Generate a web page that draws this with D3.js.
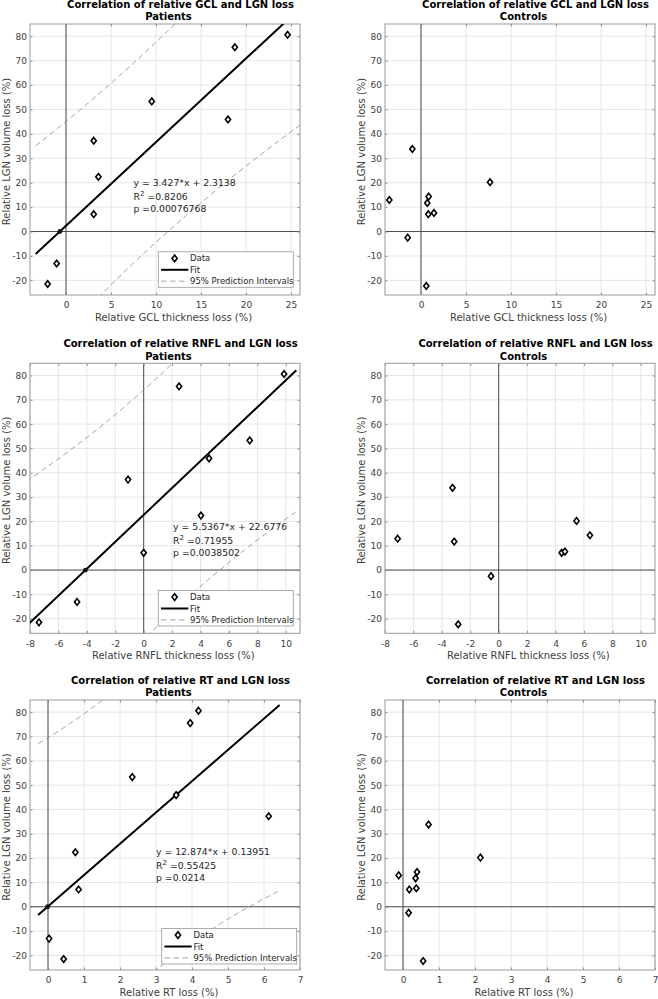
<!DOCTYPE html>
<html><head><meta charset="utf-8">
<script src="https://cdn.jsdelivr.net/npm/d3@7"></script>
<style>body{margin:0;background:#fff} svg{display:block} text{font-family:"DejaVu Sans",Verdana,sans-serif}</style>
</head><body><svg id="c" width="658" height="999"></svg>
<script>
// ---- data ----
const patientLGN  = [-21.5, -13.1, 7.1, 22.4, 37.2, 45.9, 53.3, 75.5, 80.6];
const patientGCL  = [-2.04, -1.04, 3.08, 3.6, 3.08, 18.0, 9.53, 18.76, 24.62];
const patientRNFL = [-7.37, -4.69, 0.0, 4.03, -1.10, 4.6, 7.46, 2.49, 9.88];
const patientRT   = [0.435, 0.03, 0.85, 0.76, 6.13, 3.56, 2.34, 3.95, 4.18];
const controlLGN  = [-22.3, -2.5, 7.1, 7.6, 11.7, 12.9, 14.3, 20.2, 33.8];
const controlGCL  = [0.59, -1.48, 0.81, 1.44, 0.70, -3.52, 0.85, 7.67, -0.96];
const controlRNFL = [-2.85, -0.54, 4.43, 4.66, -3.13, -7.11, 6.42, 5.48, -3.25];
const controlRT   = [0.56, 0.156, 0.175, 0.37, 0.35, -0.12, 0.39, 2.15, 0.71];

const measures = ["GCL", "RNFL", "RT"];
const xLabels = ["Relative GCL thickness loss (%)", "Relative RNFL thickness loss (%)", "Relative RT loss (%)"];
const yLabel = "Relative LGN volume loss (%)";
const groupNames = ["Patients", "Controls"];
const xDomains = [[-4, 26], [-8, 11], [-0.5, 7]];
const xTicks = [[0, 5, 10, 15, 20, 25], [-8, -6, -4, -2, 0, 2, 4, 6, 8, 10], [0, 1, 2, 3, 4, 5, 6, 7]];
const yDomain = [-26, 85];
const yTicks = [-20, -10, 0, 10, 20, 30, 40, 50, 60, 70, 80];
const fitSlope = [3.427, 5.5367, 12.874];
const fitIntercept = [2.3138, 22.6776, 0.13951];
const fitR2 = ["0.8206", "0.71955", "0.55425"];
const fitP = ["0.00076768", "0.0038502", "0.0214"];
const legendLabels = ["Data", "Fit", "95% Prediction Intervals"];
const tCrit = 2.3646; // t(0.975, df = 7)

const patientX = [patientGCL, patientRNFL, patientRT];
const controlX = [controlGCL, controlRNFL, controlRT];

// ---- layout ----
const colX = [[30, 300], [385, 655]];
const rowY = [[24, 295], [363.3, 633.3], [700, 970]];
const statPos = [[7.5, 19.8], [2.07, 17.8], [3.0, 22.6]];
const legendOff = [[6.7, 7.7], [6.7, 7.3], [3.3, 6]];
const xLabelShift = [8.5, 8.3, 4];

const svg = d3.select("#c");
const diamond = "M0,-3.3L2.6,0L0,3.3L-2.6,0Z";
const fmt = d => String(d);

function panel(r, c) {
  const [x0, x1] = colX[c], [y0, y1] = rowY[r];
  const xs = d3.scaleLinear().domain(xDomains[r]).range([x0, x1]);
  const ys = d3.scaleLinear().domain(yDomain).range([y1, y0]);
  const g = svg.append("g");
  const id = "clip" + r + c;
  svg.append("clipPath").attr("id", id).append("rect")
    .attr("x", x0).attr("y", y0).attr("width", x1 - x0).attr("height", y1 - y0);

  // grid
  g.append("g").selectAll("line").data(xTicks[r]).join("line")
    .attr("x1", d => xs(d)).attr("x2", d => xs(d)).attr("y1", y0).attr("y2", y1)
    .attr("stroke", "#e6e6e6").attr("stroke-width", 1);
  g.append("g").selectAll("line").data(yTicks).join("line")
    .attr("y1", d => ys(d)).attr("y2", d => ys(d)).attr("x1", x0).attr("x2", x1)
    .attr("stroke", "#e6e6e6").attr("stroke-width", 1);

  // zero lines
  g.append("line").attr("x1", xs(0)).attr("x2", xs(0)).attr("y1", y0).attr("y2", y1)
    .attr("stroke", "#4d4d4d").attr("stroke-width", 1);
  g.append("line").attr("y1", ys(0)).attr("y2", ys(0)).attr("x1", x0).attr("x2", x1)
    .attr("stroke", "#4d4d4d").attr("stroke-width", 1);

  // axes
  const styleAxis = sel => {
    sel.select(".domain").remove();
    sel.selectAll(".tick line").attr("stroke", "#777").attr("stroke-width", 0.8);
    sel.selectAll("text").attr("fill", "#404040").attr("font-size", 9)
      .attr("font-family", "DejaVu Sans, Verdana, sans-serif");
  };
  g.append("g").attr("transform", `translate(0,${y1})`)
    .call(d3.axisBottom(xs).tickValues(xTicks[r]).tickFormat(fmt).tickSize(-2.5).tickPadding(7))
    .call(styleAxis);
  g.append("g").attr("transform", `translate(0,${y0})`)
    .call(d3.axisTop(xs).tickValues(xTicks[r]).tickFormat("").tickSize(-2.5))
    .call(styleAxis);
  g.append("g").attr("transform", `translate(${x0},0)`)
    .call(d3.axisLeft(ys).tickValues(yTicks).tickFormat(fmt).tickSize(-2.5).tickPadding(3))
    .call(styleAxis);
  g.append("g").attr("transform", `translate(${x1},0)`)
    .call(d3.axisRight(ys).tickValues(yTicks).tickFormat("").tickSize(-2.5))
    .call(styleAxis);

  // box
  g.append("rect").attr("x", x0).attr("y", y0).attr("width", x1 - x0).attr("height", y1 - y0)
    .attr("fill", "none").attr("stroke", "#999").attr("stroke-width", 1);

  const xv = c === 0 ? patientX[r] : controlX[r];
  const yv = c === 0 ? patientLGN : controlLGN;
  const plot = g.append("g").attr("clip-path", `url(#${id})`);

  if (c === 0) {
    const m = fitSlope[r], b = fitIntercept[r];
    const n = xv.length;
    const xbar = d3.mean(xv);
    const sxx = d3.sum(xv, x => (x - xbar) ** 2);
    const sse = d3.sum(xv.map((x, i) => (yv[i] - (m * x + b)) ** 2));
    const s = Math.sqrt(sse / (n - 2));
    const half = x => tCrit * s * Math.sqrt(1 + 1 / n + (x - xbar) ** 2 / sxx);
    const [mn, mx] = d3.extent(xv);
    const ext = [mn - 0.05 * (mx - mn), mx + 0.05 * (mx - mn)];
    const grid = d3.range(0, 121).map(i => ext[0] + (ext[1] - ext[0]) * i / 120);
    const line = d3.line().x(d => xs(d[0])).y(d => ys(d[1]));
    [1, -1].forEach(sg => {
      plot.append("path").datum(grid.map(x => [x, m * x + b + sg * half(x)]))
        .attr("d", line).attr("fill", "none").attr("stroke", "#8a8a8a")
        .attr("stroke-width", 0.8).attr("stroke-dasharray", "5.5,3.5");
    });
    plot.append("path").datum(ext.map(x => [x, m * x + b]))
      .attr("d", line).attr("fill", "none").attr("stroke", "#000").attr("stroke-width", 2);
    plot.append("circle").attr("cx", xs(-b / m)).attr("cy", ys(0)).attr("r", 2.4).attr("fill", "#111");
  }

  plot.append("g").selectAll("path").data(xv.map((x, i) => [x, yv[i]])).join("path")
    .attr("transform", d => `translate(${xs(d[0])},${ys(d[1])})`)
    .attr("d", diamond).attr("fill", "#fff").attr("stroke", "#000").attr("stroke-width", 1.6);

  // titles
  const cx = (x0 + x1) / 2;
  g.append("text").attr("x", cx + 15.5).attr("y", y0 - 16).attr("text-anchor", "middle")
    .attr("font-size", 10).attr("font-weight", "bold").attr("fill", "#000")
    .text(`Correlation of relative ${measures[r]} and LGN loss`);
  g.append("text").attr("x", cx + 3.5).attr("y", y0 - 3.8).attr("text-anchor", "middle")
    .attr("font-size", 10).attr("font-weight", "bold").attr("fill", "#000")
    .text(groupNames[c]);

  // axis labels
  g.append("text").attr("x", cx + xLabelShift[r]).attr("y", y1 + 25.5).attr("text-anchor", "middle")
    .attr("font-size", 10).attr("fill", "#404040").text(xLabels[r]);
  g.append("text").attr("transform", `translate(${x0 - 20},${(y0 + y1) / 2 - 8}) rotate(-90)`)
    .attr("text-anchor", "middle").attr("font-size", 10).attr("fill", "#404040").text(yLabel);

  if (c === 0) {
    // stats text
    const [sx, sy] = statPos[r];
    const tx = xs(sx), ty = ys(sy) + 3.3;
    const st = g.append("g").attr("font-size", 9.3).attr("fill", "#262626");
    st.append("text").attr("x", tx).attr("y", ty)
      .text(`y = ${fitSlope[r]}*x + ${fitIntercept[r]}`);
    const t2 = st.append("text").attr("x", tx).attr("y", ty + 13.5);
    t2.append("tspan").text("R");
    t2.append("tspan").attr("dy", -3.5).attr("font-size", 7).text("2");
    t2.append("tspan").attr("dy", 3.5).text(" =" + fitR2[r]);
    st.append("text").attr("x", tx).attr("y", ty + 25.5).text("p =" + fitP[r]);

    // legend
    const lw = 135, lh = 35.5;
    const lx = x1 - legendOff[r][0] - lw, ly = y1 - legendOff[r][1] - lh;
    const lg = g.append("g");
    lg.append("rect").attr("x", lx).attr("y", ly).attr("width", lw).attr("height", lh)
      .attr("fill", "#fff").attr("stroke", "#999").attr("stroke-width", 0.8);
    const rowsY = [6.6, 18, 29.4].map(v => ly + v);
    lg.append("path").attr("transform", `translate(${lx + 16.3},${rowsY[0]})`).attr("d", diamond)
      .attr("fill", "#fff").attr("stroke", "#000").attr("stroke-width", 1.6);
    lg.append("line").attr("x1", lx + 2.7).attr("x2", lx + 30).attr("y1", rowsY[1]).attr("y2", rowsY[1])
      .attr("stroke", "#000").attr("stroke-width", 2);
    lg.append("line").attr("x1", lx + 2.7).attr("x2", lx + 30).attr("y1", rowsY[2]).attr("y2", rowsY[2])
      .attr("stroke", "#8a8a8a").attr("stroke-width", 0.8).attr("stroke-dasharray", "5.5,3.5");
    lg.selectAll("text.l").data(legendLabels).join("text").attr("class", "l")
      .attr("x", lx + 31.7).attr("y", (d, i) => rowsY[i] + 3)
      .attr("font-size", 8.5).attr("fill", "#262626").text(d => d);
  }
}

for (let r = 0; r < 3; r++) for (let c = 0; c < 2; c++) panel(r, c);
</script>
</body></html>
